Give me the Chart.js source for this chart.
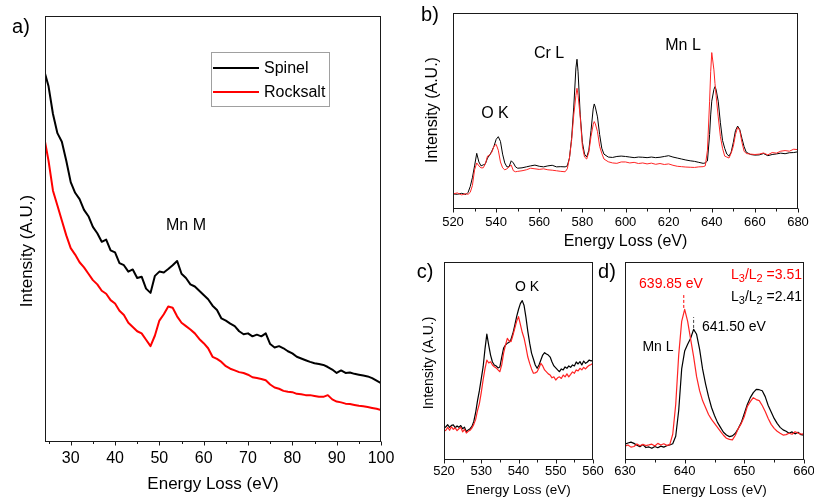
<!DOCTYPE html>
<html>
<head>
<meta charset="utf-8">
<title>EELS spectra - spinel vs rocksalt</title>
<script src="https://cdn.jsdelivr.net/npm/chart.js@4.4.1/dist/chart.umd.min.js"></script>
<style>
  html, body { margin: 0; padding: 0; background: #fff; width: 814px; height: 497px; overflow: hidden; }
  canvas { position: absolute; left: 0; top: 0; }
</style>
</head>
<body>
<canvas id="panelA" width="814" height="520"></canvas>
<canvas id="panelB" width="814" height="520"></canvas>
<canvas id="panelC" width="814" height="520"></canvas>
<canvas id="panelD" width="814" height="520"></canvas>
<script>
const FONT = "'Liberation Sans', Arial, Helvetica, sans-serif";
const CANVAS_W = 814;
const CANVAS_H = 520;
const BLACK = "#000000";
const RED = "#ff0000";
const RED_THIN = "#ff2424";

// a) low-loss region, Mn M edge
const energyA = [24.2, 25, 26, 27, 28, 29, 30, 31, 32, 33, 34, 35, 36, 37, 38, 39, 40, 41, 42, 43, 44, 45, 46, 47, 48, 49, 50,
  51, 52, 53, 54, 55, 56, 57, 58, 59, 60, 61, 62, 63, 64, 65, 66, 67, 68, 69, 70, 71, 72, 73, 74, 75, 76, 77, 78, 79, 80,
  81, 82, 83, 84, 85, 86, 87, 88, 89, 90, 91, 92, 93, 94, 95, 96, 97, 98, 99, 100];
const spinelA = [86.5, 83.5, 77, 72.5, 70.5, 66, 61, 58.5, 57, 54.5, 53, 50.5, 49, 47, 47.5, 45, 44.5, 42, 41.5, 40, 40.5,
  38.5, 38.8, 36, 35, 39, 40, 39.8, 40.6, 41.5, 42.5, 39.5, 38.5, 37, 36.5, 35.5, 34.5, 33.5, 32, 31, 29, 28.5, 27.8, 27.2,
  26, 25.3, 25.5, 24.8, 25.2, 24.8, 25.5, 23, 22.2, 22.5, 22, 21.3, 20.8, 20, 19.6, 19.2, 18.8, 18.5, 18.3, 18.1, 17.6, 17,
  16.2, 16.8, 16.2, 16.3, 16, 15.8, 15.6, 15.4, 15, 14.4, 13.8];
const rocksaltA = [70.5, 66, 59, 55.5, 52, 48.5, 45.5, 44, 42.2, 41, 39.5, 38, 37, 35.5, 34.8, 33.3, 32.5, 30.8, 29.8, 28, 27,
  26, 25.5, 24, 22.5, 25, 28.5, 30, 31.8, 31.5, 29.5, 28, 27.2, 26.4, 25.5, 24.2, 23.2, 22, 20, 19.5, 18.8, 17.8, 17.2, 16.8,
  16.4, 16.2, 15.8, 15.2, 15, 14.8, 14.5, 13.5, 12.8, 12.5, 12, 11.8, 11.7, 11.3, 11.2, 11, 11, 10.8, 10.6, 10.6, 11, 10,
  9.5, 9.3, 9, 8.9, 8.7, 8.5, 8.4, 8.2, 8, 7.8, 7.5];
const ticksA = [30, 40, 50, 60, 70, 80, 90, 100];
const minorA = [25, 35, 45, 55, 65, 75, 85, 95];

// b) core-loss overview: O K, Cr L, Mn L
const energyB = [520, 522, 524, 526, 527, 528, 529, 530, 531, 532, 533, 534, 535, 536, 537, 538, 539, 540, 541, 542, 543,
  544, 545, 546, 547, 548, 549, 550, 552, 554, 556, 558, 560, 562, 564, 566, 568, 570, 572, 573, 574, 575, 576, 577, 577.5,
  578, 579, 580, 581, 582, 583, 584, 585, 585.5, 586, 587, 588, 589, 590, 592, 594, 596, 598, 600, 602, 604, 606, 608, 610,
  612, 614, 616, 618, 620, 622, 624, 626, 628, 630, 632, 634, 636, 637, 638, 639, 639.5, 640, 641, 641.5, 642, 643, 644,
  645, 646, 647, 648, 649, 650, 651, 652, 653, 654, 655, 656, 658, 660, 662, 664, 666, 668, 670, 672, 674, 676, 678, 680];
const spinelB = [7.7, 7.5, 8, 7.4, 8.5, 11.5, 16, 22, 28.4, 24, 22, 22.5, 23, 26, 27.5, 29.5, 32, 35.5, 36.9, 34.5, 28, 23.5,
  21.5, 21.5, 24.6, 23.5, 21.5, 20.8,
  21, 21.5, 22, 22.4, 21.8, 21.5, 22, 22.3, 21.5, 21.6, 21.5,
  22, 26, 36, 52, 72, 76.4, 70, 48, 34, 28, 26.5, 30, 40, 51, 53.6, 52, 47, 38, 31, 28,
  26.5, 26.3, 26.8, 27, 26.8, 26.5, 26.2, 26.5, 26.4, 26.2, 26.5, 26.2, 26.4, 26.8, 27.2, 26.5, 26, 25.5, 25, 24.6, 24.3,
  23.8, 23.3,
  23.5, 24.5, 38, 48, 55, 61, 62.4, 61, 55, 44, 35, 31, 28, 27, 29, 34, 40, 42.3, 40.5, 36, 31.8, 29,
  27.8, 27.5, 27.6, 28.3, 27.2, 27.8, 28.1, 28.5, 28.2, 28.7, 28.8, 29.2];
const rocksaltB = [7.7, 8.2, 7.2, 7.8, 7.5, 8.5, 12, 20, 23.5, 22, 21, 21, 23, 27, 27.5, 29, 32, 33, 30, 24, 21, 20, 20.5,
  21.5, 22.4, 19.5, 19, 19.2,
  19.5, 20, 20.8, 20.5, 20.2, 20.5, 20, 19.8, 19.5, 19.2, 19,
  20.5, 26, 35, 48, 58, 61.6, 58, 47, 32, 26.5, 25.5, 29, 37, 43, 44.6, 43.5, 39.5, 32, 28.4, 25.5,
  24.1, 23.5, 23.3, 24, 24, 23.5, 23.8, 23.2, 23.5, 23, 23.4, 22.8, 23.2, 22.7, 23, 22.3, 21.8, 21.6, 21.4, 21.3, 21.2,
  21.5, 21.6,
  22, 30, 55, 70, 79.8, 71, 64, 58, 47, 37, 31, 27, 26.5, 26, 28.5, 32, 38, 41.7, 40, 34, 29.5, 28.3,
  28, 27.8, 28, 28.6, 27.6, 28.8, 28.5, 29.5, 29.8, 29.5, 30.5, 30.3];
const ticksB = [520, 540, 560, 580, 600, 620, 640, 660, 680];
const minorB = [530, 550, 570, 590, 610, 630, 650, 670];

// c) O K edge
const energyC = [520, 520.5, 521, 521.5, 522, 522.5, 523, 523.5, 524, 524.5, 525, 525.5, 526, 526.5, 527, 527.5,
  528, 528.5, 529, 529.5, 530, 530.5, 531, 531.5, 532, 532.5, 533, 533.5, 534, 534.5, 535, 535.5,
  536, 536.5, 537, 537.5, 538, 538.5, 539, 539.5, 540, 540.5, 541, 541.5, 542, 542.5, 543, 543.5,
  544, 544.5, 545, 545.5, 546, 546.5, 547, 547.5, 548, 548.5, 549, 549.5, 550, 550.5, 551, 551.5,
  552, 552.5, 553, 553.5, 554, 554.5, 555, 555.5, 556, 556.5, 557, 557.5, 558, 558.5, 559, 559.5, 560];
const spinelC = [16, 16.8, 17.8, 16.5, 17.5, 17.7, 16.3, 17.2, 16.5, 17.4, 15.8, 16.6, 14.3, 15.2, 15.8, 17,
  19.5, 24, 30, 35, 41, 47, 56, 63.6, 58, 53, 49.5, 48, 47.5, 46.5, 47, 52,
  56.5, 58, 59, 59.5, 61, 64, 68, 72.4, 76, 79, 80.5, 78, 72, 65, 59, 54,
  51, 48, 46.3, 48, 50.5, 53, 54.2, 53.5, 53, 52, 49.5, 47.5, 46.5, 45.5, 44.6, 46,
  45.5, 47, 46.3, 47.5, 46.8, 48, 47.5, 49.5, 48.5, 49.7, 48, 50, 48.8, 49.5, 50.5, 50, 50.5];
const rocksaltC = [14.5, 15, 16.5, 15, 16.8, 15.5, 16.2, 14.8, 15.8, 16.5, 14.2, 15.5, 13.6, 14.5, 15, 16.2,
  18, 20.5, 25, 28.5, 34, 40.4, 46, 50.5, 49, 49.6, 48, 47.1, 46.5, 45.5, 44.6, 48,
  54, 58, 61.4, 60, 59.8, 63, 66.5, 70, 72.4, 68.5, 64.5, 61.5, 57, 52, 48.8, 46,
  43.8, 44, 44.6, 46.5, 48.8, 47.5, 45.5, 44.5, 43.5, 42.9, 41.5, 42, 40.4, 41.5, 42, 41.2,
  42.9, 42, 43.5, 42, 43.2, 44.5, 43.8, 45.5, 45, 46.3, 45.5, 46.8, 46, 47.1, 47.8, 48.2, 48.8];
const ticksC = [520, 530, 540, 550, 560];
const minorC = [525, 535, 545, 555];

// d) Mn L2,3 edge
const energyD = [630, 630.5, 631, 631.5, 632, 632.5, 633, 633.5, 634, 634.5, 635, 635.5, 636, 636.5, 637, 637.5,
  638, 638.5, 639, 639.5, 640, 640.5, 641, 641.5, 642, 642.5, 643, 643.5, 644, 644.5, 645, 645.5,
  646, 646.5, 647, 647.5, 648, 648.5, 649, 649.5, 650, 650.5, 651, 651.5, 652, 652.5, 653, 653.5,
  654, 654.5, 655, 655.5, 656, 656.5, 657, 657.5, 658, 658.5, 659, 659.5, 660];
const spinelD = [8, 8.6, 9, 8.4, 7.5, 6.7, 7.8, 6.3, 6.6, 5.9, 6.8, 6.2, 7, 6.5, 7.2, 7.6,
  8.2, 12, 25, 46, 55, 58.5, 61.5, 66, 63.5, 56, 46, 38.5, 32, 26.5, 22.5, 19,
  16.5, 14, 12.6, 11.8, 12.2, 13.5, 16, 19, 23.5, 28, 31.5, 34, 35.7, 35.5, 35, 32,
  27.5, 24.2, 21, 18.5, 16.5, 15.2, 14.5, 13.5, 14.2, 13.2, 14, 12.8, 12.6];
const rocksaltD = [7, 7.6, 6.5, 6.8, 8.1, 7.2, 7.9, 7.3, 7.6, 8, 7.1, 8.4, 7.6, 8.2, 7.4, 7.8,
  13, 28, 53, 70, 76.1, 70, 61, 52.2, 42.1, 35, 30, 26.5, 23, 20.5, 18.5, 16.5,
  14.5, 12.5, 11, 10.4, 10.2, 12.5, 16, 18.5, 22, 27, 29.5, 31.5, 30.5, 30, 27.5, 24.5,
  21, 18, 16, 14.5, 13.5, 12.6, 12.8, 13.5, 13, 14.3, 13.6, 13.1, 13.2];
const ticksD = [630, 640, 650, 660];
const minorD = [635, 645, 655];

// L3 peak positions marked in d)
const peakRocksalt = 639.85;
const peakSpinel = 641.5;
const markRocksalt = [76.8, 83.3];
const markSpinel = [66.7, 72.2];

function pts(xs, ys) {
  return xs.map((x, i) => ({ x: x, y: ys[i] }));
}

function drawText(ctx, item) {
  ctx.save();
  ctx.fillStyle = item.color || BLACK;
  ctx.textBaseline = "middle";
  ctx.translate(item.x, item.y);
  if (item.rot) ctx.rotate(item.rot * Math.PI / 180);
  const size = item.size || 16;
  if (item.parts) {
    // text with subscripts, e.g. L3/L2
    const subSize = Math.round(size * 0.8);
    let total = 0;
    for (const [s, sub] of item.parts) {
      ctx.font = `${sub ? subSize : size}px ${FONT}`;
      total += ctx.measureText(s).width;
    }
    let cx = item.align === "right" ? -total : item.align === "center" ? -total / 2 : 0;
    ctx.textAlign = "left";
    for (const [s, sub] of item.parts) {
      ctx.font = `${sub ? subSize : size}px ${FONT}`;
      ctx.fillText(s, cx, sub ? size * 0.3 : 0);
      cx += ctx.measureText(s).width;
    }
  } else {
    ctx.font = `${size}px ${FONT}`;
    ctx.textAlign = item.align || "center";
    ctx.fillText(item.t, 0, 0);
  }
  ctx.restore();
}

const decorById = {
  panelA: {
    majors: ticksA, minors: minorA, majorLen: 4, minorLen: 2.5,
    texts: [
      { t: "a)", x: 21, y: 27, size: 20 },
      { t: "Intensity (A.U.)", x: 27, y: 251, size: 17, rot: -90 },
      { t: "Mn M", x: 186, y: 226, size: 16 },
    ],
    legend: {
      box: [211, 52, 118, 54],
      items: [
        { label: "Spinel", color: BLACK, y: 68 },
        { label: "Rocksalt", color: RED, y: 92 },
      ],
    },
  },
  panelB: {
    majors: ticksB, minors: minorB, majorLen: 4, minorLen: 3,
    texts: [
      { t: "b)", x: 430, y: 15, size: 20 },
      { t: "Intensity (A.U.)", x: 433, y: 110, size: 16, rot: -90 },
      { t: "O K", x: 495, y: 114, size: 16 },
      { t: "Cr L", x: 549, y: 54, size: 16 },
      { t: "Mn L", x: 683, y: 46, size: 16 },
    ],
  },
  panelC: {
    majors: ticksC, minors: minorC, majorLen: 4, minorLen: 3,
    texts: [
      { t: "c)", x: 425, y: 272, size: 20 },
      { t: "Intensity (A.U.)", x: 429, y: 363, size: 14, rot: -90 },
      { t: "O K", x: 527, y: 287, size: 14 },
    ],
  },
  panelD: {
    majors: ticksD, minors: minorD, majorLen: 4, minorLen: 3,
    texts: [
      { t: "d)", x: 607, y: 272, size: 20 },
      { t: "639.85 eV", x: 671, y: 284, size: 14, color: RED },
      { t: "641.50 eV", x: 702, y: 327, size: 14, align: "left" },
      { t: "Mn L", x: 658, y: 347, size: 14 },
      { parts: [["L"], ["3", 1], ["/L"], ["2", 1], [" =3.51"]], x: 802, y: 275, size: 14, color: RED, align: "right" },
      { parts: [["L"], ["3", 1], ["/L"], ["2", 1], [" =2.41"]], x: 802, y: 297, size: 14, align: "right" },
    ],
  },
};

const decorPlugin = {
  id: "decor",
  afterDraw(chart) {
    const d = decorById[chart.canvas.id];
    if (!d) return;
    const ctx = chart.ctx;
    const area = chart.chartArea;
    const xScale = chart.scales.x;
    const l = Math.round(area.left) + 0.5;
    const t = Math.round(area.top) + 0.5;
    const r = Math.round(area.right) - 0.5;
    const b = Math.round(area.bottom) - 0.5;

    ctx.save();
    ctx.strokeStyle = "#1a1a1a";
    ctx.lineWidth = 1;
    ctx.strokeRect(l, t, r - l, b - t);

    ctx.beginPath();
    for (const v of d.majors) {
      const px = Math.round(xScale.getPixelForValue(v)) + 0.5;
      ctx.moveTo(px, b);
      ctx.lineTo(px, b + d.majorLen);
    }
    for (const v of d.minors) {
      const px = Math.round(xScale.getPixelForValue(v)) + 0.5;
      ctx.moveTo(px, b);
      ctx.lineTo(px, b + d.minorLen);
    }
    ctx.stroke();

    if (d.legend) {
      const [bx, by, bw, bh] = d.legend.box;
      ctx.strokeStyle = "#a0a0a0";
      ctx.strokeRect(bx + 0.5, by + 0.5, bw, bh);
      ctx.font = `16px ${FONT}`;
      ctx.textBaseline = "middle";
      ctx.textAlign = "left";
      for (const item of d.legend.items) {
        ctx.strokeStyle = item.color;
        ctx.lineWidth = 2;
        ctx.beginPath();
        ctx.moveTo(bx + 2, item.y);
        ctx.lineTo(bx + 48, item.y);
        ctx.stroke();
        ctx.fillStyle = BLACK;
        ctx.fillText(item.label, bx + 53, item.y + 1);
      }
    }
    ctx.restore();

    for (const item of d.texts) drawText(ctx, item);
  },
};
Chart.register(decorPlugin);

function line(data, color, width) {
  return {
    data: data,
    showLine: true,
    borderColor: color,
    backgroundColor: color,
    borderWidth: width,
    pointRadius: 0,
    borderJoinStyle: "round",
  };
}

function makePanel(id, p) {
  return new Chart(document.getElementById(id), {
    type: "scatter",
    data: { datasets: p.datasets },
    options: {
      responsive: false,
      animation: false,
      devicePixelRatio: 1,
      layout: {
        padding: {
          left: p.frame.left,
          top: p.frame.top,
          right: CANVAS_W - p.frame.right,
          bottom: CANVAS_H - p.frame.bottom - p.axisHeight,
        },
      },
      plugins: { legend: { display: false }, tooltip: { enabled: false } },
      elements: { point: { radius: 0 }, line: { tension: 0 } },
      scales: {
        x: {
          type: "linear",
          min: p.min,
          max: p.max,
          grid: { display: false, drawTicks: false },
          border: { display: false },
          ticks: {
            font: { family: FONT, size: p.tickSize },
            color: BLACK,
            padding: p.tickPad,
            autoSkip: false,
            maxRotation: 0,
          },
          afterBuildTicks: (s) => { s.ticks = p.ticks.map((v) => ({ value: v })); },
          afterFit: (s) => { s.height = p.axisHeight; s.paddingLeft = 0; s.paddingRight = 0; },
          title: {
            display: true,
            text: "Energy Loss (eV)",
            color: BLACK,
            font: { family: FONT, size: p.titleSize },
            padding: 0,
          },
        },
        y: { display: false, min: 0, max: 100 },
      },
    },
  });
}

makePanel("panelA", {
  frame: { left: 45, top: 16, right: 381, bottom: 442 },
  axisHeight: 53, min: 24.2, max: 100, ticks: ticksA,
  tickSize: 16, tickPad: 7, titleSize: 17,
  datasets: [
    line(pts(energyA, rocksaltA), RED, 2),
    line(pts(energyA, spinelA), BLACK, 2),
  ],
});

makePanel("panelB", {
  frame: { left: 453, top: 13, right: 798, bottom: 209 },
  axisHeight: 42, min: 520, max: 680, ticks: ticksB,
  tickSize: 13, tickPad: 6, titleSize: 16,
  datasets: [
    line(pts(energyB, rocksaltB), RED_THIN, 1),
    line(pts(energyB, spinelB), BLACK, 1),
  ],
});

makePanel("panelC", {
  frame: { left: 444, top: 262, right: 593, bottom: 460 },
  axisHeight: 38, min: 520, max: 560, ticks: ticksC,
  tickSize: 13, tickPad: 4, titleSize: 13.5,
  datasets: [
    line(pts(energyC, rocksaltC), RED_THIN, 1.2),
    line(pts(energyC, spinelC), BLACK, 1.2),
  ],
});

makePanel("panelD", {
  frame: { left: 625, top: 262, right: 804, bottom: 460 },
  axisHeight: 38, min: 630, max: 660, ticks: ticksD,
  tickSize: 13, tickPad: 4, titleSize: 13.5,
  datasets: [
    line(pts(energyD, rocksaltD), RED_THIN, 1.2),
    line(pts(energyD, spinelD), BLACK, 1.2),
    Object.assign(line([{ x: peakRocksalt, y: markRocksalt[0] }, { x: peakRocksalt, y: markRocksalt[1] }], RED, 1), { borderDash: [3, 2] }),
    Object.assign(line([{ x: peakSpinel, y: markSpinel[0] }, { x: peakSpinel, y: markSpinel[1] }], "#444444", 1), { borderDash: [3, 2] }),
  ],
});
</script>
</body>
</html>
